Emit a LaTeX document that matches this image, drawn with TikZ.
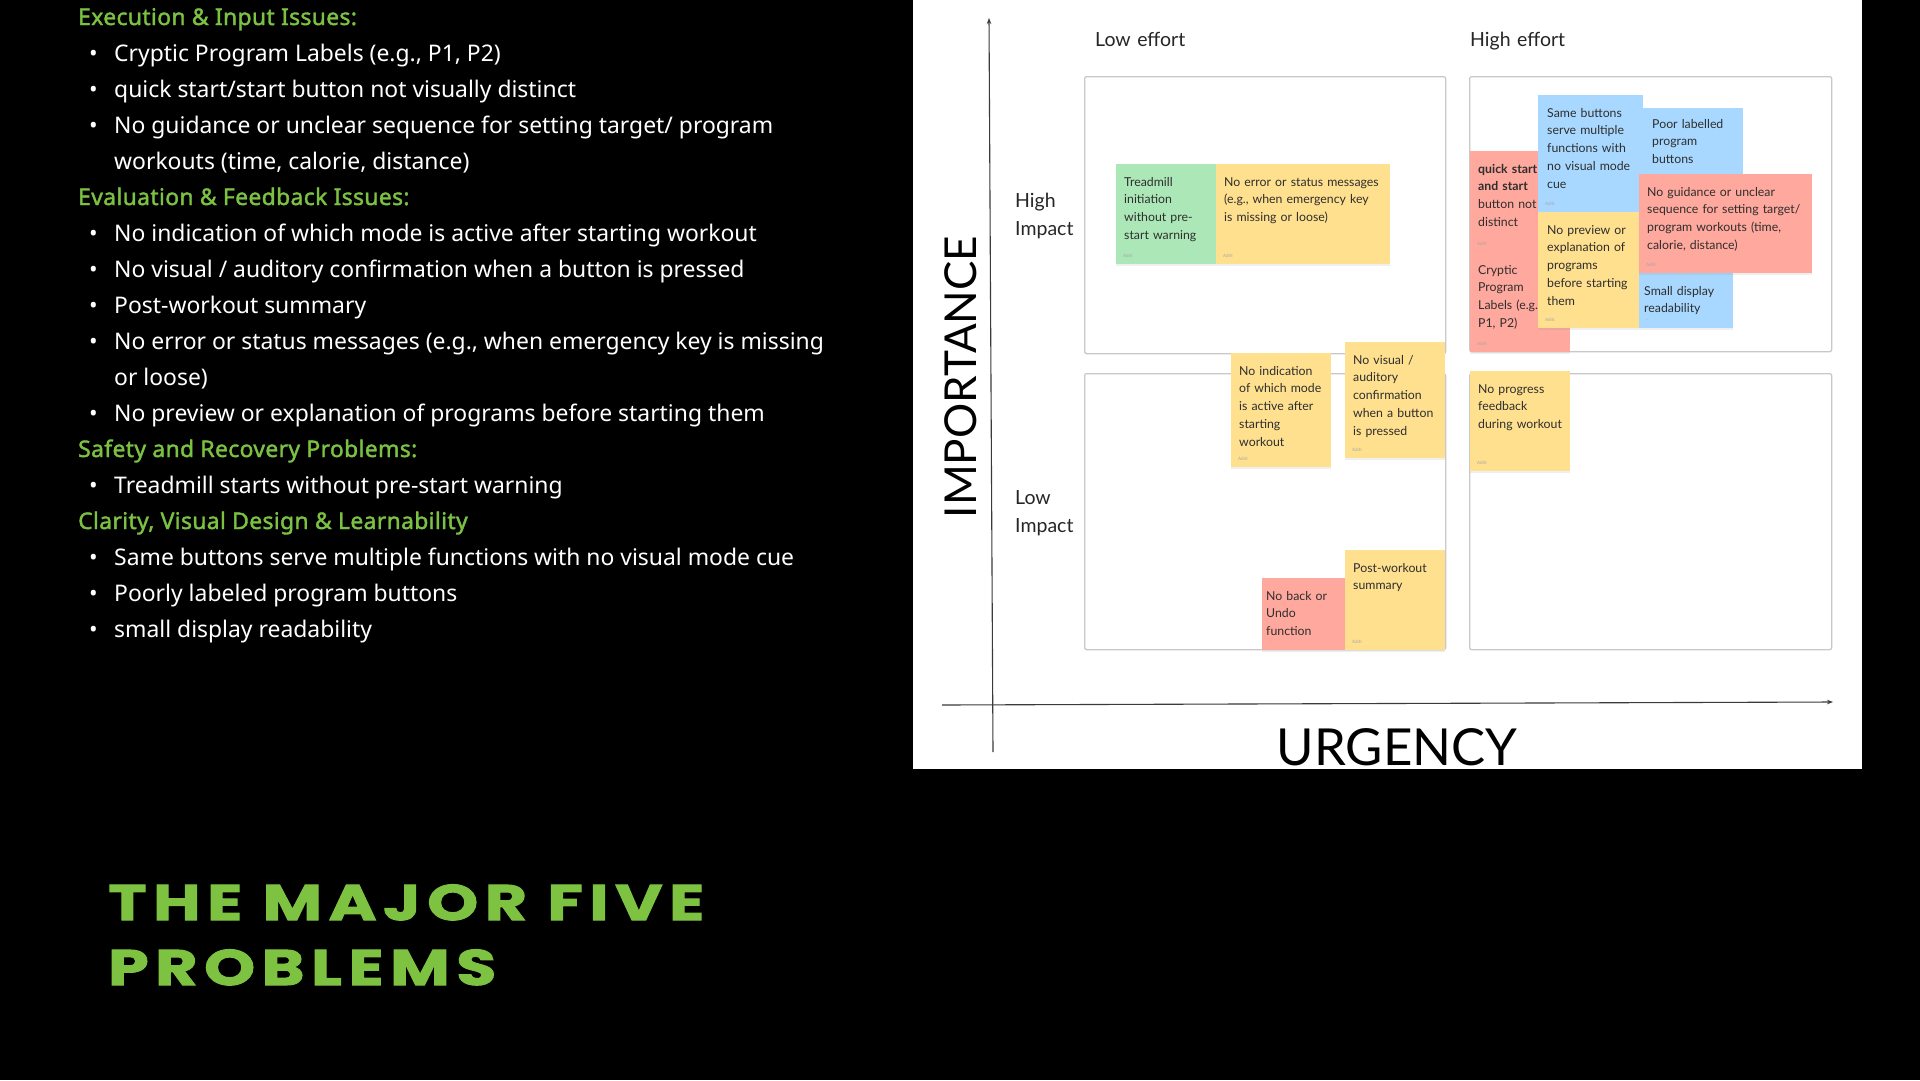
\documentclass[tikz,border=0pt]{standalone}
\usepackage{fontspec}
\setmainfont{Lato}
\newfontfamily\listfont{Noto Sans}
\newfontfamily\headfont[FakeBold=1.6,LetterSpace=1.5]{Noto Sans}
\newfontfamily\titlefont[FakeStretch=1.3,LetterSpace=13,FakeBold=2]{Poppins}
\usepackage{xcolor}
\usepackage{tikz}
\usetikzlibrary{arrows.meta, positioning, shadows}

\definecolor{hdgreen}{HTML}{7CC242}
\definecolor{titlegreen}{HTML}{7DC241}
\definecolor{quadgray}{HTML}{C9C9C9}
\definecolor{axisgray}{HTML}{3A3A3A}
\definecolor{notetext}{HTML}{2E2E2E}
\definecolor{noteyellow}{HTML}{FFE08F}
\definecolor{notered}{HTML}{FFA89D}
\definecolor{noteblue}{HTML}{A8D8FF}
\definecolor{notegreen}{HTML}{ACE8B7}

\begin{document}
\begin{tikzpicture}[
    x=1pt, y=-1pt,
    item/.style={anchor=base west, inner sep=0pt, text=white, font=\listfont\fontsize{22.9}{28}\selectfont},
    head/.style={item, text=hdgreen, font=\headfont\fontsize{22.9}{28}\selectfont},
    quad/.style={draw=quadgray, line width=1.3pt, rounded corners=2pt, anchor=north west, inner sep=0pt},
    sticky/.style={anchor=north west, inner sep=0pt, drop shadow={opacity=0.12, shadow xshift=0pt, shadow yshift=-1.5pt}, label={[aditi, anchor=south west]south west:#1}},
    sticky/.default=Aditi,
    note/.style={anchor=base west, inner sep=0pt, align=left, text width=#1, text=notetext, font=\fontsize{12.3}{17.9}\selectfont},
    note/.default=90pt,
    aditi/.style={inner sep=7pt, text=gray!70, font=\fontsize{4.5}{5}\selectfont},
    lab/.style={anchor=base west, inner sep=0pt, align=left, text width=150pt, text=black!85, font=\fontsize{19.5}{28}\selectfont},
    axis/.style={-{Stealth[length=6pt, width=4.5pt]}, line width=1.1pt, draw=axisgray}
]
  \useasboundingbox (0,0) rectangle (1920,1080);
  \fill[black] (0,0) rectangle (1920,1080);

  % Issue list
  \node[head] (h1) at (78,25) {Execution \& Input Issues:};
  \node[item] (b1) at (89,61) {\makebox[25pt][l]{\textbullet}Cryptic Program Labels (e.g., P1, P2)};
  \node[item] (b2) at (89,97) {\makebox[25pt][l]{\textbullet}quick start/start button not visually distinct};
  \node[item] (b3) at (89,133) {\makebox[25pt][l]{\textbullet}No guidance or unclear sequence for setting target/ program};
  \node[item] (c3) at (114,169) {workouts (time, calorie, distance)};
  \node[head] (h2) at (78,205) {Evaluation \& Feedback Issues:};
  \node[item] (b4) at (89,241) {\makebox[25pt][l]{\textbullet}No indication of which mode is active after starting workout};
  \node[item] (b5) at (89,277) {\makebox[25pt][l]{\textbullet}No visual / auditory confirmation when a button is pressed};
  \node[item] (b6) at (89,313) {\makebox[25pt][l]{\textbullet}Post-workout summary};
  \node[item] (b7) at (89,349) {\makebox[25pt][l]{\textbullet}No error or status messages (e.g., when emergency key is missing};
  \node[item] (c7) at (114,385) {or loose)};
  \node[item] (b8) at (89,421) {\makebox[25pt][l]{\textbullet}No preview or explanation of programs before starting them};
  \node[head] (h3) at (78,457) {Safety and Recovery Problems:};
  \node[item] (b9) at (89,493) {\makebox[25pt][l]{\textbullet}Treadmill starts without pre-start warning};
  \node[head] (h4) at (78,529) {Clarity, Visual Design \& Learnability};
  \node[item] (b10) at (89,565) {\makebox[25pt][l]{\textbullet}Same buttons serve multiple functions with no visual mode cue};
  \node[item] (b11) at (89,601) {\makebox[25pt][l]{\textbullet}Poorly labeled program buttons};
  \node[item] (b12) at (89,637) {\makebox[25pt][l]{\textbullet}small display readability};

  % Title
  \node[anchor=base west, inner sep=0pt, text=titlegreen, font=\titlefont\bfseries\fontsize{50}{60}\selectfont] (t1) at (108,920) {THE MAJOR FIVE};
  \node[anchor=base west, inner sep=0pt, text=titlegreen, font=\titlefont\bfseries\fontsize{50}{60}\selectfont] (t2) at (108,985) {PROBLEMS};

  % Matrix panel
  \fill[white] (913,0) rectangle (1862,769);
  \coordinate (ybot) at (993,752);
  \coordinate (ytop) at (989,18);
  \coordinate (xl) at (942,705);
  \coordinate (xr) at (1833,702);
  \draw[axis] (ybot) -- (ytop);
  \draw[axis] (xl) -- (xr);
  \node[rotate=90, anchor=base, inner sep=0pt, font=\fontsize{44}{50}\selectfont] (imp) at (976,377) {IMPORTANCE};
  \node[anchor=base, inner sep=0pt, font=\fontsize{51}{60}\selectfont] (urg) at (1397,765) {URGENCY};

  \node[lab] (low) at (1095,46) {Low effort};
  \node[lab] (high) at (1470,46) {High effort};
  \node[lab] (hi) at (1015,207) {High\\Impact};
  \node[lab] (li) at (1015,504) {Low\\Impact};

  % Quadrants
  \node[quad, minimum width=361pt, minimum height=277pt] (qhl) at (1084,76) {};
  \node[quad, minimum width=362pt, minimum height=275pt] (qhh) at (1469,76) {};
  \node[quad, minimum width=361pt, minimum height=276pt] (qll) at (1084,373) {};
  \node[quad, minimum width=362pt, minimum height=276pt] (qlh) at (1469,373) {};

  % Sticky notes, high impact / low effort
  \node[sticky, fill=notegreen, minimum width=100pt, minimum height=100pt] (tread) at (1116,164) {};
  \node[note] (treadt) at ([shift={(8,22)}]tread.north west) {Treadmill\\initiation\\without pre-\\start warning};
  \node[sticky, fill=noteyellow, minimum width=174pt, minimum height=100pt] (noerr) at (1216,164) {};
  \node[note=162pt] (noerrt) at ([shift={(8,22)}]noerr.north west) {No error or status messages\\(e.g., when emergency key\\is missing or loose)};

  % Sticky notes, high impact / high effort
  \node[sticky, fill=notered, minimum width=100pt, minimum height=101pt] (quick) at (1470,151) {};
  \node[note] (quickt) at ([shift={(8,22)}]quick.north west) {\textbf{quick start}\\\textbf{and start}\\button not\\distinct};
  \node[sticky, fill=notered, minimum width=100pt, minimum height=100pt] (crypt) at (1470,252) {};
  \node[note] (cryptt) at ([shift={(8,22)}]crypt.north west) {Cryptic\\Program\\Labels (e.g.,\\P1, P2)};
  \node[sticky, fill=noteblue, minimum width=105pt, minimum height=117pt] (same) at (1538,95) {};
  \node[note] (samet) at ([shift={(9,22)}]same.north west) {Same buttons\\serve multiple\\functions with\\no visual mode\\cue};
  \node[sticky, fill=noteyellow, minimum width=101pt, minimum height=116pt] (prev) at (1538,212) {};
  \node[note] (prevt) at ([shift={(9,22)}]prev.north west) {No preview or\\explanation of\\programs\\before starting\\them};
  \node[sticky={}, fill=noteblue, minimum width=100pt, minimum height=90pt] (poor) at (1643,108) {};
  \node[note] (poort) at ([shift={(9,20)}]poor.north west) {Poor labelled\\program\\buttons};
  \node[sticky={--}, fill=noteblue, minimum width=94pt, minimum height=98pt] (small) at (1639,230) {};
  \node[note] (smallt) at ([shift={(5,65)}]small.north west) {Small display\\readability};
  \node[sticky, fill=notered, minimum width=173pt, minimum height=99pt] (guide) at (1639,174) {};
  \node[note=162pt] (guidet) at ([shift={(8,22)}]guide.north west) {No guidance or unclear\\sequence for setting target/\\program workouts (time,\\calorie, distance)};

  % Sticky notes, low impact
  \node[sticky, fill=noteyellow, minimum width=100pt, minimum height=114pt] (indic) at (1231,353) {};
  \node[note] (indict) at ([shift={(8,22)}]indic.north west) {No indication\\of which mode\\is active after\\starting\\workout};
  \node[sticky, fill=noteyellow, minimum width=100pt, minimum height=116pt] (visual) at (1345,342) {};
  \node[note] (visualt) at ([shift={(8,22)}]visual.north west) {No visual /\\auditory\\confirmation\\when a button\\is pressed};
  \node[sticky, fill=noteyellow, minimum width=100pt, minimum height=100pt] (progr) at (1470,371) {};
  \node[note] (progrt) at ([shift={(8,22)}]progr.north west) {No progress\\feedback\\during workout};
  \node[sticky={--}, fill=notered, minimum width=83pt, minimum height=72pt] (noback) at (1262,578) {};
  \node[note=78pt] (nobackt) at ([shift={(4,22)}]noback.north west) {No back or\\Undo\\function};
  \node[sticky, fill=noteyellow, minimum width=100pt, minimum height=100pt] (post) at (1345,550) {};
  \node[note] (postt) at ([shift={(8,22)}]post.north west) {Post-workout\\summary};
\end{tikzpicture}
\end{document}
